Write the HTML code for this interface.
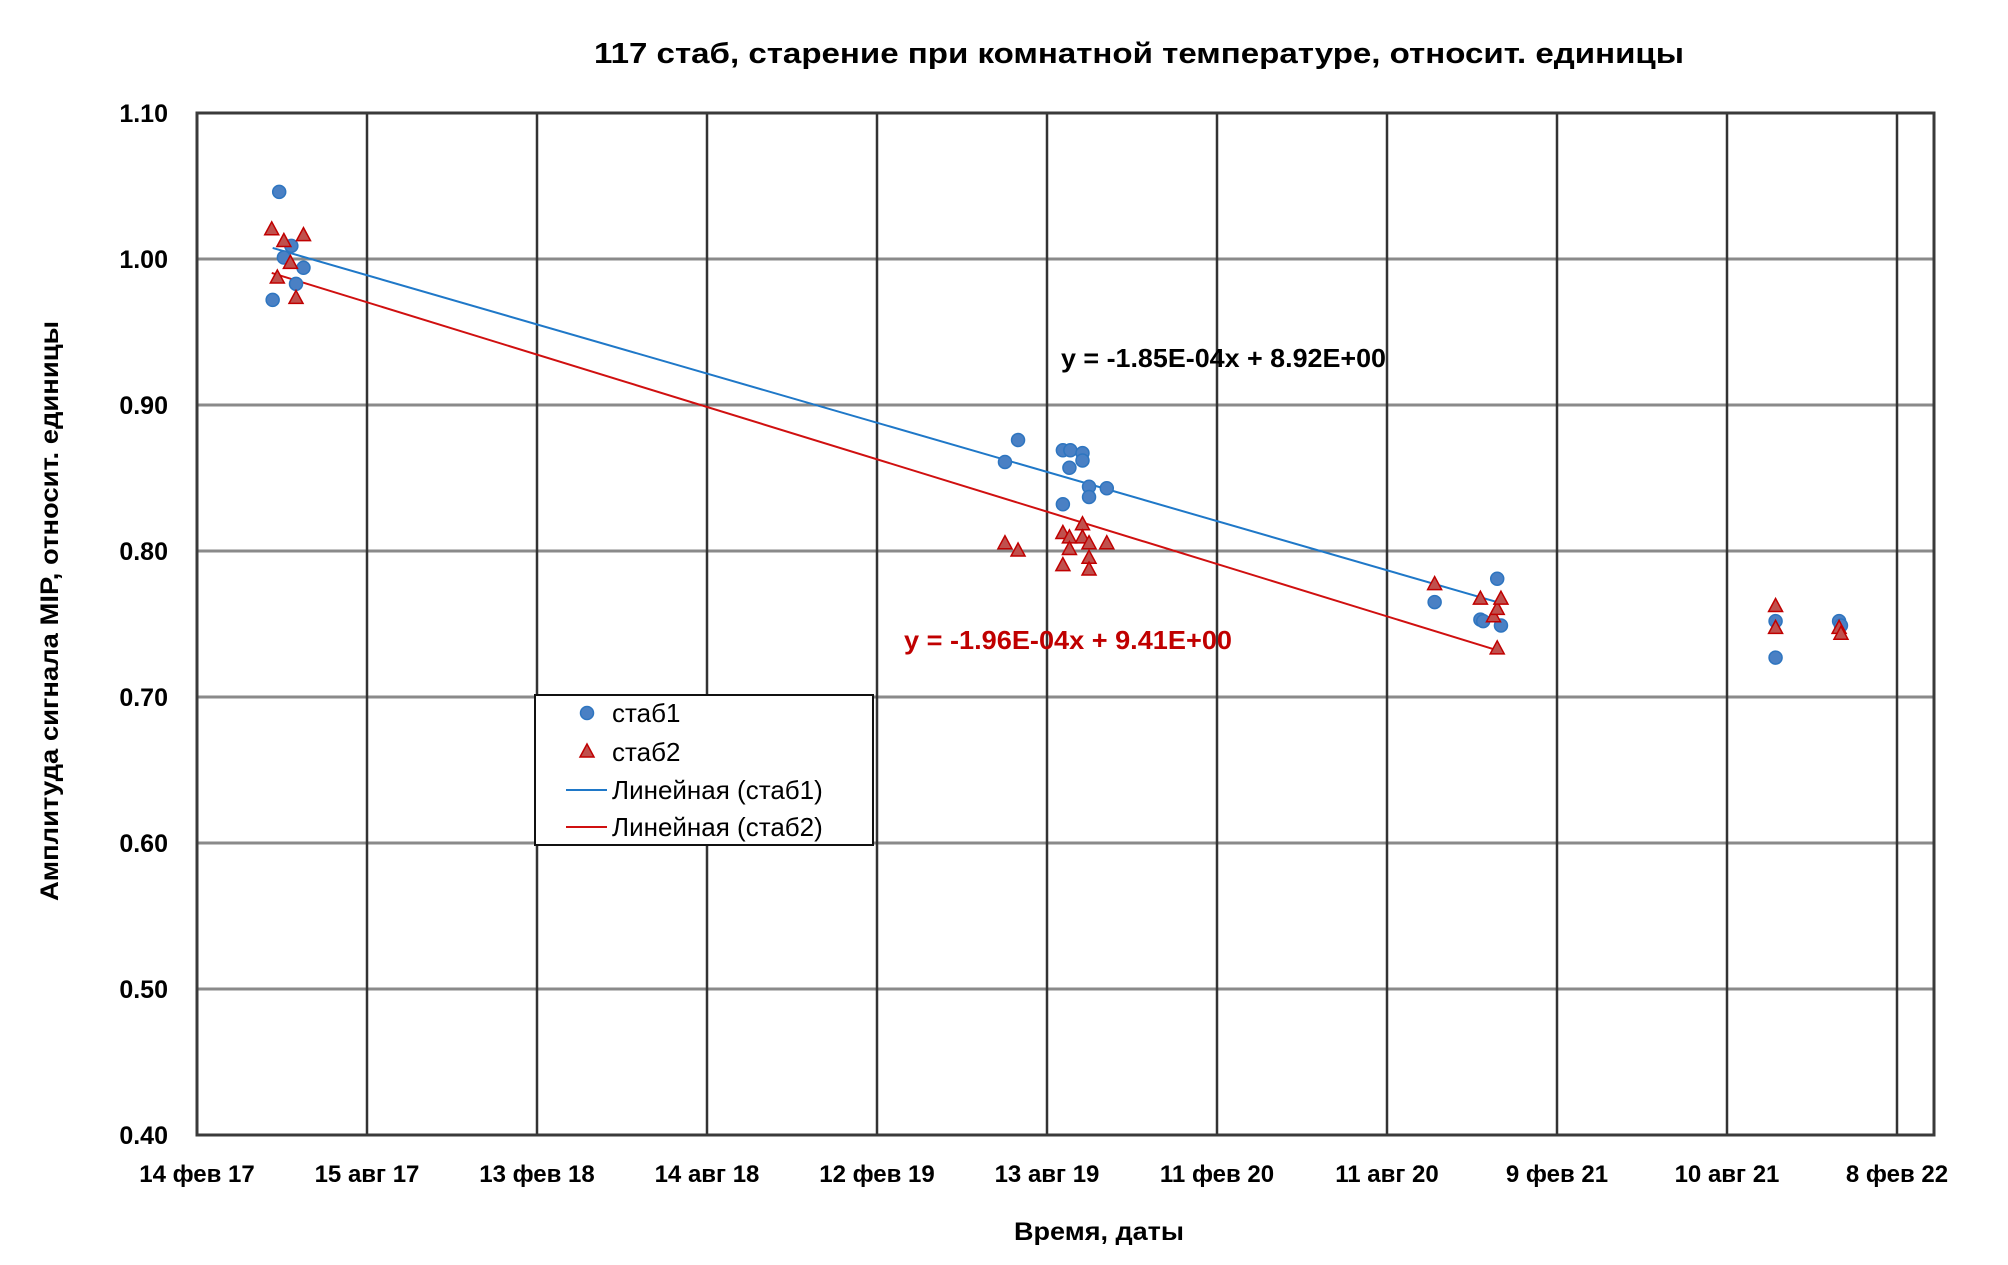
<!DOCTYPE html>
<html><head><meta charset="utf-8"><style>
html,body{margin:0;padding:0;background:#fff;}
svg{display:block;font-family:"Liberation Sans","DejaVu Sans",sans-serif;}
</style></head><body>
<svg id="chart" width="2008" height="1265" viewBox="0 0 2008 1265">
<rect x="0" y="0" width="2008" height="1265" fill="#fff"/>
<text x="1139" y="63" text-anchor="middle" font-size="29" font-weight="bold" textLength="1090" lengthAdjust="spacingAndGlyphs">117 стаб, старение при комнатной температуре, относит. единицы</text>
<g id="grid"></g>
<g id="trends"></g>
<g id="points"></g>
<rect x="197" y="113" width="1737" height="1022" fill="none" stroke="#3a3a3a" stroke-width="3"/>
<g id="ticks"></g>
<text x="1099" y="1240" text-anchor="middle" font-size="25" font-weight="bold" textLength="170" lengthAdjust="spacingAndGlyphs">Время, даты</text>
<text transform="translate(58,611) rotate(-90)" text-anchor="middle" font-size="25" font-weight="bold" textLength="580" lengthAdjust="spacingAndGlyphs">Амплитуда сигнала MIP,  относит. единицы</text>
<text x="1061" y="367" font-size="26" font-weight="bold" fill="#000" textLength="325" lengthAdjust="spacingAndGlyphs">y = -1.85E-04x + 8.92E+00</text>
<text x="904" y="649" font-size="26" font-weight="bold" fill="#c00000" textLength="328" lengthAdjust="spacingAndGlyphs">y = -1.96E-04x + 9.41E+00</text>
<g>
<rect x="535" y="695" width="338" height="150" fill="#fff" stroke="#111" stroke-width="2"/>
<circle cx="587" cy="713" r="6.5" fill="#4a80c4" stroke="#2e75c0" stroke-width="1.5"/>
<text x="612" y="722" font-size="26">стаб1</text>
<polygon points="587,744 594,757 580,757" fill="#c0504d" stroke="#c00000" stroke-width="1.5"/>
<text x="612" y="761" font-size="26">стаб2</text>
<line x1="566" y1="790" x2="607" y2="790" stroke="#1f78c8" stroke-width="2"/>
<text x="612" y="799" font-size="26">Линейная (стаб1)</text>
<line x1="566" y1="827" x2="607" y2="827" stroke="#d01010" stroke-width="2"/>
<text x="612" y="836" font-size="26">Линейная (стаб2)</text>
</g>
</svg>
<script>
const xTickLabels=["14 фев 17","15 авг 17","13 фев 18","14 авг 18","12 фев 19","13 авг 19","11 фев 20","11 авг 20","9 фев 21","10 авг 21","8 фев 22"];
const xTickDays=[0,182,364,546,728,910,1092,1274,1456,1638,1820];
const yTickLabels=["0.40","0.50","0.60","0.70","0.80","0.90","1.00","1.10"];
const yTickValues=[0.4,0.5,0.6,0.7,0.8,0.9,1.0,1.1];
const stab1Days=[88,81,93,101,106,114,865,879,927,935,927,934,948,948,955,955,974,1325,1374,1377,1392,1396,1690,1690,1758,1760];
const stab1Values=[1.046,0.972,1.001,1.009,0.983,0.994,0.861,0.876,0.869,0.869,0.832,0.857,0.867,0.862,0.844,0.837,0.843,0.765,0.753,0.752,0.781,0.749,0.752,0.727,0.752,0.749];
const stab2Days=[80,93,114,86,100,106,865,879,927,927,934,934,948,948,955,955,955,974,1325,1374,1388,1392,1396,1392,1690,1690,1758,1760];
const stab2Values=[1.020,1.012,1.016,0.987,0.997,0.973,0.805,0.800,0.812,0.790,0.809,0.801,0.818,0.809,0.805,0.795,0.787,0.805,0.777,0.767,0.755,0.760,0.767,0.733,0.762,0.747,0.747,0.743];
const trendMaxDay=1500;

const NS="http://www.w3.org/2000/svg";
const L=197,R=1934,T=113,B=1135,PXD=(1897-197)/1820;
const xs=d=>L+d*PXD;
const ys=v=>B-(v-0.4)/0.7*(B-T);
function mk(tag,attrs,parent){const e=document.createElementNS(NS,tag);for(const k in attrs)e.setAttribute(k,attrs[k]);parent.appendChild(e);return e;}
const grid=document.getElementById('grid'),ticks=document.getElementById('ticks');
yTickValues.forEach((v,i)=>{
  const l=mk('line',{x1:L,x2:R,y1:ys(v),y2:ys(v),stroke:'#8a8a8a','stroke-width':3},grid);
  
  
  const t=mk('text',{x:168,y:ys(v)+9,'text-anchor':'end','font-size':25,'font-weight':'bold'},ticks);
  t.textContent=yTickLabels[i];
  
  
});
xTickDays.forEach((d,i)=>{
  const l=mk('line',{x1:xs(d),x2:xs(d),y1:T,y2:B,stroke:'#333','stroke-width':2.5},grid);
  
  
  const t=mk('text',{x:xs(d),y:1182,'text-anchor':'middle','font-size':24,'font-weight':'bold'},ticks);
  t.textContent=xTickLabels[i];
  
  
});
function fit(ds,vs){const p=[];ds.forEach((d,i)=>{if(d<trendMaxDay)p.push([d,vs[i]]);});
  const n=p.length;let sx=0,sy=0,sxx=0,sxy=0;p.forEach(([x,y])=>{sx+=x;sy+=y;sxx+=x*x;sxy+=x*y;});
  const m=(n*sxy-sx*sy)/(n*sxx-sx*sx),b=(sy-m*sx)/n;
  const x0=Math.min(...p.map(q=>q[0])),x1=Math.max(...p.map(q=>q[0]));return {m,b,x0,x1};}
const tr=document.getElementById('trends');
[[stab1Days,stab1Values,'#1f78c8','trendline-stab1'],[stab2Days,stab2Values,'#d01010','trendline-stab2']].forEach(([ds,vs,c,nm])=>{
  const f=fit(ds,vs);
  const l=mk('line',{x1:xs(f.x0),y1:ys(f.m*f.x0+f.b),x2:xs(f.x1),y2:ys(f.m*f.x1+f.b),stroke:c,'stroke-width':2},tr);
  
  
});
const pts=document.getElementById('points');
stab1Days.forEach((d,i)=>{
  const c=mk('circle',{cx:xs(d),cy:ys(stab1Values[i]),r:6.5,fill:'#4a80c4',stroke:'#2e75c0','stroke-width':1.5},pts);
  
  
});
stab2Days.forEach((d,i)=>{
  const x=xs(d),y=ys(stab2Values[i]);
  const p=mk('polygon',{points:`${x},${y-8} ${x+7},${y+5} ${x-7},${y+5}`,fill:'#c0504d',stroke:'#c00000','stroke-width':1.5},pts);
  
  
});
</script>
</body></html>
